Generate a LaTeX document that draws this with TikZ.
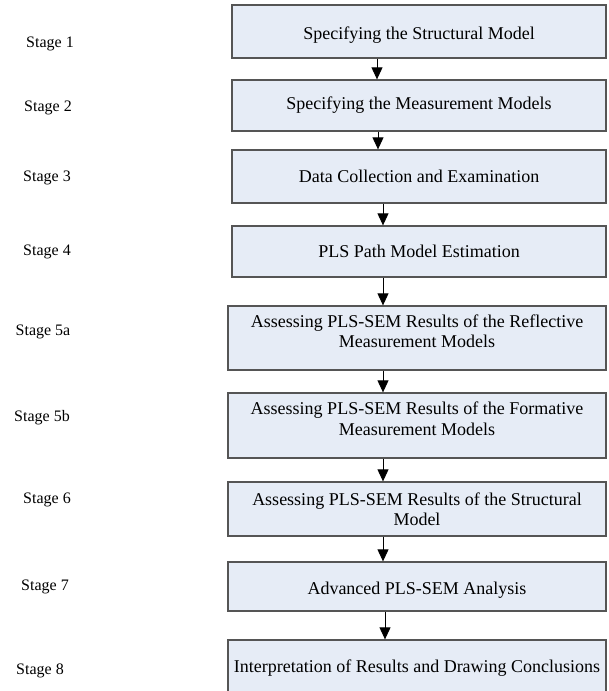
\documentclass[tikz,border=0pt]{standalone}
\usepackage{fontspec}
\setmainfont{Liberation Serif}
\usetikzlibrary{arrows.meta}
\definecolor{boxfill}{RGB}{230,236,246}
\definecolor{boxline}{RGB}{85,85,85}
\begin{document}
\begin{tikzpicture}[x=1pt,y=-1pt,
  stagebox/.style={draw=boxline, line width=1.3pt, fill=boxfill, align=center,
    inner sep=0pt, font=\fontsize{18}{20.5}\selectfont},
  lowtext/.style={text height=19pt, text depth=4pt},
  hightext/.style={text depth=14pt},
  stagelabel/.style={font=\fontsize{16}{18}\selectfont, inner sep=0pt},
  flow/.style={-{Triangle[width=11pt,length=12pt]}, line width=0.9pt, black}]
\useasboundingbox (0,0) rectangle (608,691);
\clip (0,0) rectangle (608,691);

% process steps
\node[stagebox, lowtext, minimum width=374, minimum height=53] (b1) at (419,31.5) {Specifying the Structural Model};
\node[stagebox, minimum width=374, minimum height=51] (b2) at (419,105.5) {Specifying the Measurement Models};
\node[stagebox, minimum width=374, minimum height=53] (b3) at (419,176.5) {Data Collection and Examination};
\node[stagebox, minimum width=374, minimum height=51] (b4) at (419,251.5) {PLS Path Model Estimation};
\node[stagebox, hightext, minimum width=378, minimum height=64] (b5a) at (417,338) {Assessing PLS-SEM Results of the Reflective\\Measurement Models};
\node[stagebox, hightext, minimum width=378, minimum height=65] (b5b) at (417,425.5) {Assessing PLS-SEM Results of the Formative\\Measurement Models};
\node[stagebox, minimum width=378, minimum height=54] (b6) at (417,509) {Assessing PLS-SEM Results of the Structural\\Model};
\node[stagebox, lowtext, minimum width=378, minimum height=49] (b7) at (417,586.5) {Advanced PLS-SEM Analysis};
\node[stagebox, minimum width=378, minimum height=56] (b8) at (417,668) {Interpretation of Results and Drawing Conclusions};

% stage labels
\node[stagelabel] (s1) at (50,44) {Stage 1};
\node[stagelabel] (s2) at (48,108) {Stage 2};
\node[stagelabel] (s3) at (47,178) {Stage 3};
\node[stagelabel] (s4) at (47,252) {Stage 4};
\node[stagelabel] (s5a) at (43,332) {Stage 5a};
\node[stagelabel] (s5b) at (42,418) {Stage 5b};
\node[stagelabel] (s6) at (47,500) {Stage 6};
\node[stagelabel] (s7) at (45,587) {Stage 7};
\node[stagelabel] (s8) at (40,671) {Stage 8};

% arrow columns
\coordinate (c1) at (377,0);
\coordinate (c2) at (378,0);
\coordinate (c3) at (383,0);
\coordinate (c4) at (385,0);

% connectors
\draw[flow] (b1.south -| c1) -- (b2.north -| c1);
\draw[flow] (b2.south -| c2) -- (b3.north -| c2);
\draw[flow] (b3.south -| c3) -- (b4.north -| c3);
\draw[flow] (b4.south -| c3) -- (b5a.north -| c3);
\draw[flow] (b5a.south -| c3) -- (b5b.north -| c3);
\draw[flow] (b5b.south -| c3) -- (b6.north -| c3);
\draw[flow] (b6.south -| c3) -- (b7.north -| c3);
\draw[flow] (b7.south -| c4) -- (b8.north -| c4);
\end{tikzpicture}
\end{document}
